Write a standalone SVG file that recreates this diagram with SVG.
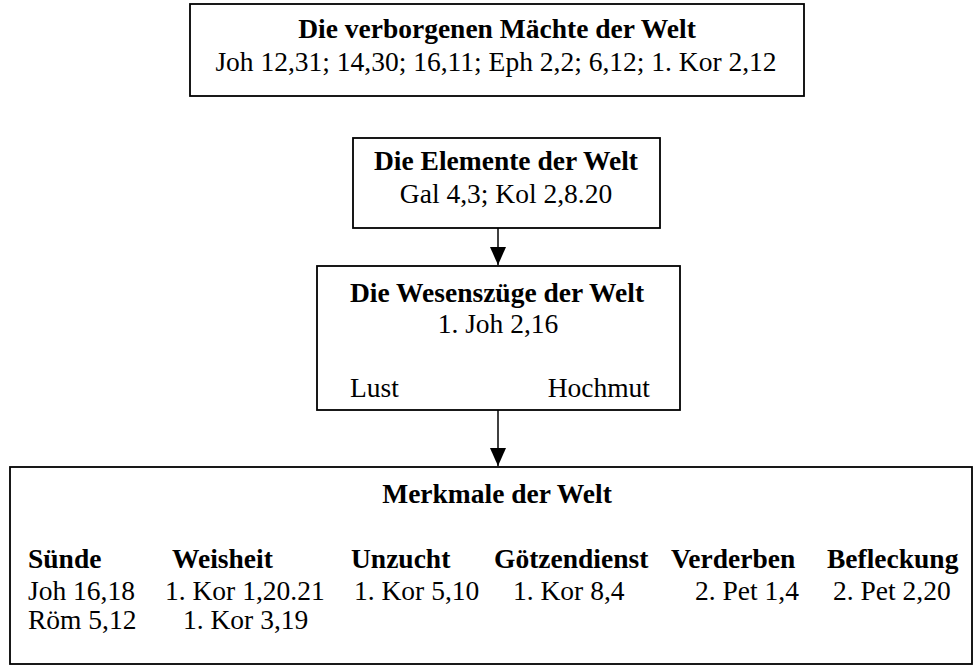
<svg xmlns="http://www.w3.org/2000/svg" width="975" height="666" viewBox="0 0 975 666">
<defs>
<style>
.box{fill:#fff;stroke:#000;stroke-width:1.8}
text{font-family:"Liberation Serif","Times New Roman",serif;fill:#000;font-size:27.5px}
.b{font-weight:bold}
.c{text-anchor:middle}
.conn{stroke:#000;stroke-width:1.5;fill:none}
</style>
<marker id="ah" viewBox="0 0 18 16" refX="18" refY="8" markerWidth="18" markerHeight="16" markerUnits="userSpaceOnUse" orient="auto">
<path d="M0,0 L18,8 L0,16 Z" fill="#000"/>
</marker>
</defs>
<rect width="975" height="666" fill="#fff"/>
<g id="n-maechte">
<rect class="box" x="190" y="4" width="614" height="92"/>
<text class="b c" x="497" y="38">Die verborgenen Mächte der Welt</text>
<text class="c" x="496" y="71">Joh 12,31; 14,30; 16,11; Eph 2,2; 6,12; 1. Kor 2,12</text>
</g>
<g id="n-elemente">
<rect class="box" x="353" y="138" width="307" height="90"/>
<text class="b c" x="506" y="170">Die Elemente der Welt</text>
<text class="c" x="506" y="203">Gal 4,3; Kol 2,8.20</text>
</g>
<g id="n-wesenszuege">
<rect class="box" x="317" y="266" width="363" height="144"/>
<text class="b c" x="497" y="302">Die Wesenszüge der Welt</text>
<text class="c" x="498" y="333">1. Joh 2,16</text>
<text x="350" y="397">Lust</text>
<text x="650" y="397" text-anchor="end">Hochmut</text>
</g>
<g id="n-merkmale">
<rect class="box" x="10" y="467" width="962" height="197"/>
<text class="b c" x="497" y="503">Merkmale der Welt</text>
<text class="b" x="28" y="568">Sünde</text>
<text class="b" x="172" y="568">Weisheit</text>
<text class="b" x="351" y="568">Unzucht</text>
<text class="b" x="494" y="568">Götzendienst</text>
<text class="b" x="671" y="568">Verderben</text>
<text class="b" x="827" y="568">Befleckung</text>
<text x="28" y="600">Joh 16,18</text>
<text x="165" y="600">1. Kor 1,20.21</text>
<text x="354" y="600">1. Kor 5,10</text>
<text x="513" y="600">1. Kor 8,4</text>
<text x="695" y="600">2. Pet 1,4</text>
<text x="833" y="600">2. Pet 2,20</text>
<text x="28" y="629">Röm 5,12</text>
<text x="183" y="629">1. Kor 3,19</text>
</g>
<g id="connectors">
<line class="conn" x1="498" y1="228" x2="498" y2="265" marker-end="url(#ah)"/>
<line class="conn" x1="498" y1="410" x2="498" y2="466" marker-end="url(#ah)"/>
</g>
</svg>
